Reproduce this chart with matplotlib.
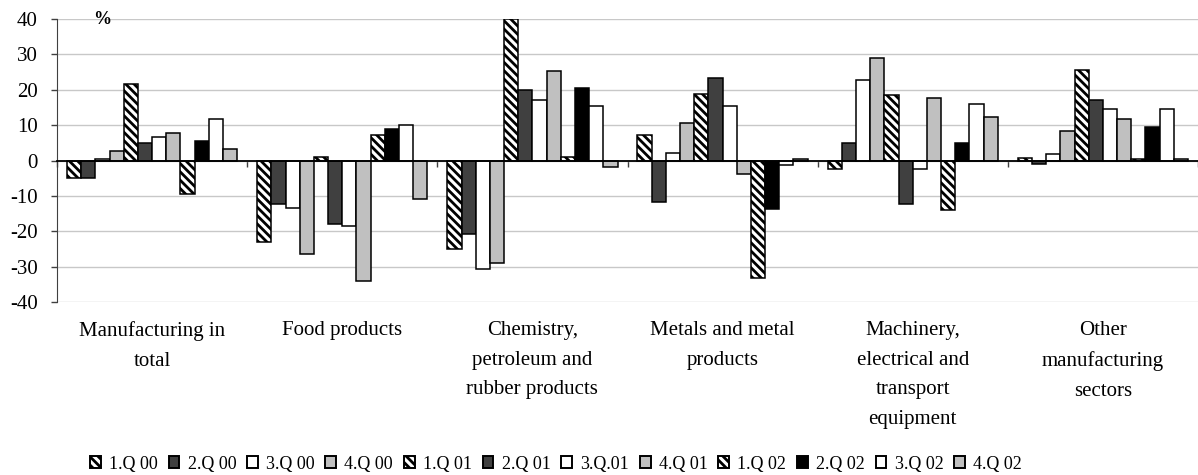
import numpy as np
import matplotlib
matplotlib.use("Agg")
import matplotlib.pyplot as plt
from matplotlib.patches import Rectangle
from matplotlib.transforms import Bbox, TransformedBbox, blended_transform_factory

plt.rcParams["font.family"] = ["Liberation Serif", "DejaVu Serif"]
plt.rcParams["hatch.linewidth"] = 2.0
plt.rcParams["axes.unicode_minus"] = False

categories = ["Manufacturing in\ntotal", "Food products",
              "Chemistry,\npetroleum and\nrubber products",
              "Metals and metal\nproducts",
              "Machinery,\nelectrical and\ntransport\nequipment",
              "Other\nmanufacturing\nsectors"]
series_names = ["1.Q 00", "2.Q 00", "3.Q 00", "4.Q 00", "1.Q 01", "2.Q 01",
                "3.Q.01", "4.Q 01", "1.Q 02", "2.Q 02", "3.Q 02", "4.Q 02"]

q1_00 = [-5.0, -22.9, -25.0, 7.2, -2.3, 0.8]
q2_00 = [-5.0, -12.4, -20.8, -11.7, 5.0, -1.0]
q3_00 = [0.3, -13.4, -30.6, 2.2, 22.8, 1.7]
q4_00 = [2.8, -26.3, -29.0, 10.5, 28.9, 8.3]
q1_01 = [21.6, 1.0, 40.0, 18.9, 18.5, 25.5]
q2_01 = [5.0, -17.9, 20.0, 23.3, -12.3, 17.2]
q3_01 = [6.7, -18.5, 17.1, 15.5, -2.3, 14.5]
q4_01 = [7.7, -34.0, 25.4, -3.9, 17.7, 11.7]
q1_02 = [-9.5, 7.3, 0.9, -33.3, -14.1, 0.3]
q2_02 = [5.6, 9.0, 20.6, -13.6, 5.0, 9.5]
q3_02 = [11.7, 10.0, 15.5, -1.2, 16.0, 14.5]
q4_02 = [3.3, -10.8, -1.7, 0.4, 12.2, 0.3]
values = [q1_00, q2_00, q3_00, q4_00, q1_01, q2_01,
          q3_01, q4_01, q1_02, q2_02, q3_02, q4_02]

# fill / hatch per series
styles = [("white", "\\\\\\\\"), ("#404040", None), ("white", None), ("#c0c0c0", None)] * 2 + \
         [("white", "\\\\\\\\"), ("black", None), ("white", None), ("#c0c0c0", None)]

fig = plt.figure(figsize=(11.98, 4.75), dpi=100)
ax = fig.add_axes([57 / 1198, 1 - 302 / 475, 1141 / 1198, 283 / 475])

x = np.arange(len(categories))
w = 0.895 / 12
handles = []
for i, (vals, (fc, hatch)) in enumerate(zip(values, styles)):
    ax.bar(x + (i - 5.5) * w, vals, width=w, color=fc, edgecolor="black",
           linewidth=1.1, hatch=hatch, zorder=3)
    handles.append(Rectangle((0, 0), 1, 1, facecolor=fc, edgecolor="black",
                             linewidth=1.4, hatch=hatch))

ax.set_xlim(-0.5, len(categories) - 0.5)
ax.set_ylim(-40, 40)
ax.set_yticks(np.arange(-40, 41, 10))
ax.yaxis.grid(True, color="#c8c8c8", lw=1.0, zorder=0)
ax.tick_params(axis="y", direction="out", length=4, width=1, color="#404040",
               labelsize=15, pad=10)

for s in ["top", "right"]:
    ax.spines[s].set_visible(False)
ax.spines["left"].set_color("#404040")
ax.spines["bottom"].set_position(("data", 0))
ax.spines["bottom"].set_linewidth(1.3)
ax.spines["bottom"].set_zorder(4)
ax.set_xticks(np.arange(len(categories) + 1) - 0.5)
ax.set_xticklabels([])
ax.tick_params(axis="x", direction="out", length=4, width=1, color="#404040")

tr = blended_transform_factory(ax.transData, ax.transAxes)
for xi, name in zip(x, categories):
    ax.text(xi, -0.068, name, transform=tr, ha="center", va="top",
            fontsize=15, linespacing=1.75)

ax.text(0.04, 1.0, "%", transform=ax.transAxes, ha="center", va="center",
        fontsize=13, fontweight="bold")

leg = fig.legend(handles, series_names, loc="center left",
                 bbox_to_anchor=(90 / 1198, 1 - 464 / 475), ncol=12,
                 frameon=False, fontsize=13, handlelength=0.6,
                 handleheight=0.6, handletextpad=0.45, columnspacing=0.6,
                 borderpad=0, borderaxespad=0)
clip = TransformedBbox(Bbox([[0, 0], [1033 / 1198, 1]]), fig.transFigure)
last = leg.get_texts()[-1]
last.set_clip_on(True)
last.set_clip_box(clip)

fig.savefig("out.png", dpi=100)
